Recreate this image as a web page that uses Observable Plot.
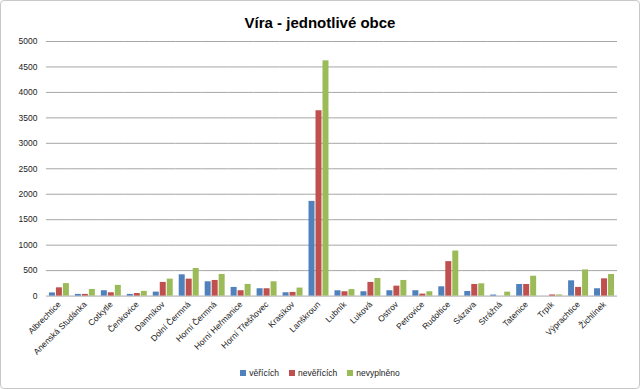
<!DOCTYPE html>
<html>
<head>
<meta charset="utf-8">
<script src="https://cdn.jsdelivr.net/npm/d3@7"></script>
<script src="https://cdn.jsdelivr.net/npm/@observablehq/plot@0.6"></script>
<style>
  html, body { margin: 0; padding: 0; background: #fff; }
  #wrap { position: relative; width: 638px; height: 387px; border: 1px solid #c8c8c8; border-radius: 4px; font-family: "Liberation Sans", sans-serif; }
  #title { position: absolute; top: 13px; left: 0; width: 638px; text-align: center; font-size: 15px; font-weight: bold; color: #000; }
  #chart { position: absolute; top: 33px; left: -1px; }
  #chart svg { overflow: visible; }
  #legend { position: absolute; top: 367px; left: 0; width: 638px; display: flex; justify-content: center; gap: 10px; font-size: 8.5px; color: #222; }
  #legend span { display: inline-flex; align-items: center; gap: 3px; }
  #legend i { display: inline-block; width: 6px; height: 6px; }
</style>
</head>
<body>
<div id="wrap">
  <div id="title">Víra - jednotlivé obce</div>
  <div id="chart"></div>
  <div id="legend"></div>
</div>
<script>
const categories = ["Albrechtice", "Anenská Studánka", "Cotkytle", "Čenkovice", "Damníkov", "Dolní Čermná", "Horní Čermná", "Horní Heřmanice", "Horní Třešňovec", "Krasíkov", "Lanškroun", "Lubník", "Luková", "Ostrov", "Petrovice", "Rudoltice", "Sázava", "Strážná", "Tatenice", "Trpík", "Výprachtice", "Žichlínek"];
const seriesNames = ["věřících", "nevěřících", "nevyplněno"];
const veri       = [62, 33, 105, 33, 78, 418, 281, 170, 144, 65, 1860, 104, 85, 105, 105, 182, 91, 20, 228, 0, 300, 144];
const neveri     = [162, 33, 65, 50, 268, 333, 307, 105, 144, 72, 3640, 85, 268, 195, 39, 677, 228, 0, 228, 22, 170, 339];
const nevyplneno = [245, 130, 210, 92, 333, 542, 425, 229, 281, 157, 4620, 128, 345, 307, 85, 885, 241, 78, 390, 22, 514, 424];
const colors = ["#4F81BD", "#C0504D", "#9BBB59"];
const yTicks = d3.range(0, 5001, 500);

const seriesValues = [veri, neveri, nevyplneno];
const data = [];
categories.forEach((c, i) => {
  seriesNames.forEach((s, j) => data.push({obec: c, serie: s, value: seriesValues[j][i]}));
});

const chart = Plot.plot({
  width: 640,
  height: 322,
  marginLeft: 35,
  marginRight: 12,
  marginTop: 7,
  marginBottom: 60,
  style: {fontFamily: "Liberation Sans, sans-serif", fontSize: "8.5px", color: "#222", background: "transparent", overflow: "visible"},
  fx: {domain: categories, padding: 0, axis: "bottom", tickRotate: -45, tickSize: 0, tickPadding: 7, label: null},
  x: {domain: seriesNames, axis: null, paddingInner: 0.12, paddingOuter: 0.25},
  y: {domain: [0, 5000], ticks: yTicks, tickSize: 0, tickPadding: 9, label: null, tickFormat: d => String(d)},
  color: {domain: seriesNames, range: colors},
  marks: [
    Plot.ruleY(yTicks, {stroke: "#a6a6a6", strokeWidth: 1}),
    Plot.barY(data, {fx: "obec", x: "serie", y: "value", fill: "serie"})
  ]
});
document.getElementById("chart").appendChild(chart);

const legend = document.getElementById("legend");
seriesNames.forEach((s, j) => {
  const el = document.createElement("span");
  el.innerHTML = `<i style="background:${colors[j]}"></i>${s}`;
  legend.appendChild(el);
});
</script>
</body>
</html>
